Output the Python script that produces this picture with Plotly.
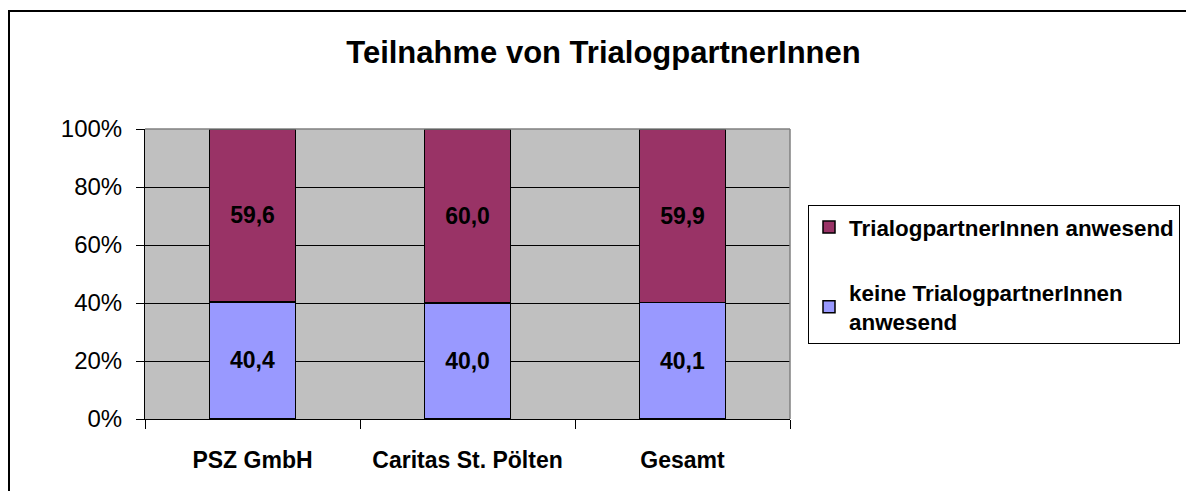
import plotly.graph_objects as go

categories = ["PSZ GmbH", "Caritas St. Pölten", "Gesamt"]
keine_values = [40.4, 40.0, 40.1]
anwesend_values = [59.6, 60.0, 59.9]
series_names = ["keine TrialogpartnerInnen<br>anwesend", "TrialogpartnerInnen anwesend"]
y_ticks = [0, 20, 40, 60, 80, 100]
title_text = "Teilnahme von TrialogpartnerInnen"

FONT = "Liberation Sans, Arial, sans-serif"
OFF = 8  # page body margin

def fmt(v):
    return f"{v:.1f}".replace(".", ",")

fig = go.Figure()
fig.add_trace(go.Bar(
    x=categories, y=keine_values, name=series_names[0], legendgroup="a", legendrank=2,
    marker=dict(color="#9999FF", line=dict(color="black", width=1.5)),
    text=[fmt(v) for v in keine_values], textposition="inside",
    insidetextanchor="middle", constraintext="none", textangle=0,
    textfont=dict(family=FONT, size=23, color="black", weight="bold"),
    width=0.4,
))
fig.add_trace(go.Bar(
    x=categories, y=anwesend_values, name=series_names[1], legendgroup="b", legendrank=1,
    marker=dict(color="#993366", line=dict(color="black", width=1.5)),
    text=[fmt(v) for v in anwesend_values], textposition="inside",
    insidetextanchor="middle", constraintext="none", textangle=0,
    textfont=dict(family=FONT, size=23, color="black", weight="bold"),
    width=0.4,
))

W, H = 1194 - OFF, 491 - OFF
L, T = 145 - OFF, 129 - OFF
R = W - (790 - OFF)
B = H - (419 - OFF)
pw, ph = W - L - R, H - T - B

def px_x(x):
    return (x - OFF - L) / pw

def px_y(y):
    return (H - B - (y - OFF)) / ph

fig.update_layout(
    width=W, height=H,
    margin=dict(l=L, r=R, t=T, b=B, pad=0, autoexpand=False),
    paper_bgcolor="white", plot_bgcolor="#C0C0C0",
    barmode="stack", bargap=0.6,
    font=dict(family=FONT, color="black"),
    title=dict(text=title_text, x=(603.5 - OFF) / W, xref="container", xanchor="center",
               y=1 - (52 - OFF) / H, yref="container", yanchor="middle",
               font=dict(family=FONT, size=31, color="black", weight="bold")),
    legend=dict(x=px_x(808), y=px_y(205), xanchor="left", yanchor="top",
                bordercolor="black", borderwidth=1, bgcolor="white",
                traceorder="grouped", tracegroupgap=33,
                font=dict(family=FONT, size=22.4, color="black", weight="bold")),
    showlegend=True,
)
fig.update_xaxes(
    type="category", tickson="boundaries", ticks="outside", ticklen=9,
    tickcolor="black", tickwidth=1, showline=True, linecolor="black", linewidth=1,
    showgrid=False, ticklabelstandoff=20,
    tickfont=dict(family=FONT, size=23, color="black", weight="bold"),
)
fig.update_yaxes(
    range=[0, 100], tickvals=y_ticks, ticktext=[f"{v}%" for v in y_ticks],
    ticks="outside", ticklen=8, tickcolor="black", tickwidth=1,
    showline=True, linecolor="black", linewidth=1,
    showgrid=True, gridcolor="black", gridwidth=1, zeroline=False,
    ticklabelstandoff=9,
    tickfont=dict(family=FONT, size=24, color="black"),
)
# plot area top/right border in grey
fig.add_shape(type="line", xref="paper", yref="paper", x0=0, x1=1, y0=1, y1=1,
              line=dict(color="#808080", width=1.5), layer="above")
fig.add_shape(type="line", xref="paper", yref="paper", x0=1, x1=1, y0=0, y1=1,
              line=dict(color="#808080", width=1.5), layer="above")
# outer chart frame
fig.add_shape(type="rect", xref="paper", yref="paper",
              x0=px_x(9), x1=px_x(1250), y0=px_y(550), y1=px_y(11),
              line=dict(color="black", width=2), fillcolor="rgba(0,0,0,0)", layer="above")

fig.write_html("out.html")
